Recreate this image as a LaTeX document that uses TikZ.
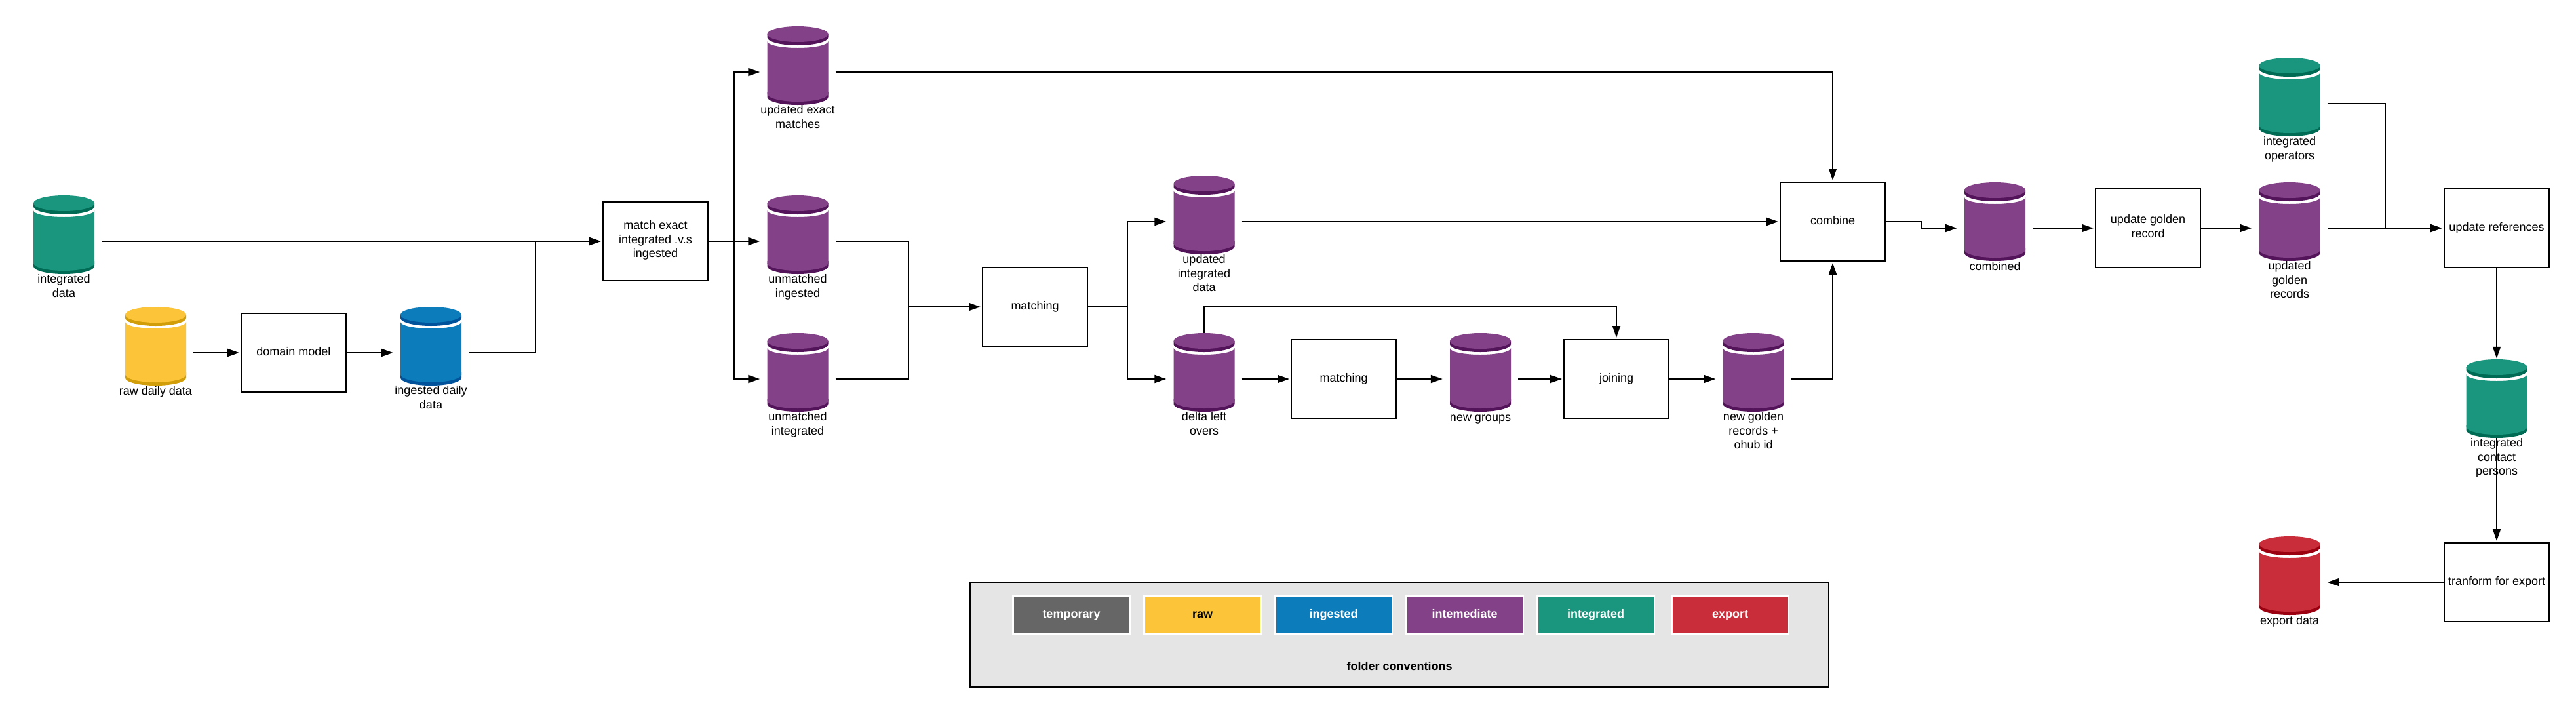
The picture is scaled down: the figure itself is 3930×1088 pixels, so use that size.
\documentclass[tikz,border=0pt]{standalone}
\usepackage{fontspec}
\setmainfont{Liberation Sans}
\usetikzlibrary{arrows.meta,calc}
\definecolor{cTemp}{HTML}{666666}
\definecolor{cRaw}{HTML}{FCC438}
\definecolor{cRawD}{HTML}{D19D09}
\definecolor{cIng}{HTML}{0C7CBA}
\definecolor{cIngD}{HTML}{00529B}
\definecolor{cMid}{HTML}{834187}
\definecolor{cMidD}{HTML}{53145A}
\definecolor{cInt}{HTML}{19967D}
\definecolor{cIntD}{HTML}{006B54}
\definecolor{cExp}{HTML}{C92D39}
\definecolor{cExpD}{HTML}{9A0010}
\definecolor{cLegend}{HTML}{E5E5E5}
\def\cylarc#1#2{.. controls (-46.5,{#1+.5523*#2}) and (-25.7,{#1+#2}) .. (0,{#1+#2}) .. controls (25.7,{#1+#2}) and (46.5,{#1+.5523*#2}) .. (46.5,#1)}
\tikzset{
  basefont/.style={font=\fontsize{18}{21.6}\selectfont},
  proc/.style={basefont,draw=black,line width=2pt,fill=white,minimum width=160pt,minimum height=120pt,inner sep=0pt,align=center,
    execute at begin node={\rule{0pt}{14pt}},execute at end node={\rule[-6pt]{0pt}{6pt}}},
  cylbox/.style={minimum width=93pt,minimum height=120pt,inner sep=0pt},
  cyllab/.style={basefont,inner sep=0pt,align=center,anchor=north,execute at begin node={\rule{0pt}{14pt}}},
  wire/.style={line width=2pt,line join=miter},
  conn/.style={wire,-{Triangle[length=18pt,width=12pt]}},
  tobox/.style={conn,shorten >=2pt},
  swatch/.style={basefont,font=\fontsize{18}{21.6}\selectfont\bfseries,draw=white,line width=2.5pt,minimum width=178.5pt,minimum height=58pt,inner sep=0pt,text=white,
    execute at begin node={\rule{0pt}{14pt}},execute at end node={\rule[-6pt]{0pt}{6pt}}},
  pics/dbshape/.style 2 args={code={
    \fill[#2] (-46.5,40) -- (-46.5,48) \cylarc{48}{12} -- (46.5,40) -- cycle;
    \fill[#1] (-46.5,-37) \cylarc{-37}{10} -- (46.5,44) -- (-46.5,44) -- cycle;
    \fill[#1] (-46.5,43) \cylarc{43}{12} -- cycle;
    \fill[#2] (-46.5,-48) -- (-46.5,-43) \cylarc{-43}{12} -- (46.5,-48) -- cycle;
    \fill[#1] (0,-48) ellipse [x radius=46.5pt,y radius=12pt];
  }}
}
\newcommand{\dbcyl}[6]{%
  \node[cylbox] (#1) at (#2,#3) {};
  \pic at (#1) {dbshape={#4}{#5}};
  \node[cyllab] (#1-l) at (#1.south) {#6};
  \coordinate (#1-o) at ([xshift=11pt,yshift=-10pt]#1.east);
  \coordinate (#1-i) at ([xshift=-11pt,yshift=-10pt]#1.west);
}
\begin{document}
\begin{tikzpicture}[x=1pt,y=-1pt]
\useasboundingbox (0,0) rectangle (3930,1088);
\fill[white] (0,0) rectangle (3930,1088);
% stores
\dbcyl{intdata}{97.5}{358}{cInt}{cIntD}{integrated\\data}
\dbcyl{raw}{237.5}{528}{cRaw}{cRawD}{raw daily data}
\dbcyl{ing}{657.5}{528}{cIng}{cIngD}{ingested daily\\data}
\dbcyl{exact}{1217}{100}{cMid}{cMidD}{updated exact\\matches}
\dbcyl{uing}{1217}{358}{cMid}{cMidD}{unmatched\\ingested}
\dbcyl{uint}{1217}{568}{cMid}{cMidD}{unmatched\\integrated}
\dbcyl{updint}{1837}{328}{cMid}{cMidD}{updated\\integrated\\data}
\dbcyl{delta}{1837}{568}{cMid}{cMidD}{delta left\\overs}
\dbcyl{groups}{2258.5}{568}{cMid}{cMidD}{new groups}
\dbcyl{newgold}{2675}{568}{cMid}{cMidD}{new golden\\records +\\ohub id}
\dbcyl{combined}{3043.5}{338}{cMid}{cMidD}{combined}
\dbcyl{updgold}{3493}{338}{cMid}{cMidD}{updated\\golden\\records}
\dbcyl{oper}{3493}{148}{cInt}{cIntD}{integrated\\operators}
\dbcyl{icp}{3809}{608}{cInt}{cIntD}{integrated\\contact\\persons}
\dbcyl{expd}{3493}{878}{cExp}{cExpD}{export data}
% processes
\node[proc] (domain) at (448,538) {domain model};
\node[proc] (match) at (1000,367.5) {match exact\\integrated .v.s\\ingested};
\node[proc] (matchA) at (1579,468) {matching};
\node[proc] (matchB) at (2050,578) {matching};
\node[proc] (join) at (2466,578) {joining};
\node[proc] (comb) at (2796,338) {combine};
\node[proc] (updg) at (3277,348) {update golden\\record};
\node[proc] (updr) at (3809,348) {update references};
\node[proc] (trans) at (3809,888) {tranform for export};
% legend
\node[draw=black,line width=2.5pt,fill=cLegend,minimum width=1310pt,minimum height=160pt] (legend) at (2135,968) {};
\node[swatch,fill=cTemp] (sTemp) at (1634.5,938) {temporary};
\node[swatch,fill=cRaw,text=black] (sRaw) at (1834.5,938) {raw};
\node[swatch,fill=cIng] (sIng) at (2034.5,938) {ingested};
\node[swatch,fill=cMid] (sMid) at (2234.5,938) {intemediate};
\node[swatch,fill=cInt] (sInt) at (2434.5,938) {integrated};
\node[swatch,fill=cExp] (sExp) at (2639.5,938) {export};
\node[basefont,font=\fontsize{18}{21.6}\selectfont\bfseries,inner sep=0pt,execute at begin node={\rule{0pt}{14pt}},execute at end node={\rule[-6pt]{0pt}{6pt}}] (legendT) at (2135,1018) {folder conventions};
% connectors
\draw[tobox] (intdata-o) -- (intdata-o -| match.west);
\coordinate (j1) at (816.5,0);
\draw[wire] (ing-o) -| (j1 |- intdata-o);
\draw[tobox] (raw-o) -- (raw-o -| domain.west);
\draw[conn] (domain.east |- ing-i) -- (ing-i);
\coordinate (j2) at (1120,0);
\draw[wire] (match.east |- uing-i) -- (uing-i -| j2);
\draw[conn] (uing-i -| j2) -- (uing-i);
\draw[conn] (uing-i -| j2) |- (exact-i);
\draw[conn] (uing-i -| j2) |- (uint-i);
\coordinate (j3) at (1386,0);
\draw[wire] (uing-o) -| (j3 |- matchA.west);
\draw[wire] (uint-o) -| (j3 |- matchA.west);
\draw[tobox] (j3 |- matchA.west) -- (matchA.west);
\coordinate (j4) at (1720,0);
\draw[wire] (matchA.east) -- (j4 |- matchA.east);
\draw[conn] (j4 |- matchA.east) |- (updint-i);
\draw[conn] (j4 |- matchA.east) |- (delta-i);
\draw[tobox] (updint-o) -- (updint-o -| comb.west);
\draw[tobox] (delta-o) -- (delta-o -| matchB.west);
\draw[conn] (matchB.east) -- (groups-i);
\draw[tobox] (groups-o) -- (groups-o -| join.west);
\draw[conn] (join.east) -- (newgold-i);
\coordinate (fb) at (delta.north |- matchA.east);
\draw[tobox] (delta.north) -- (fb) -| (join.north);
\draw[tobox] (exact-o) -| (comb.north);
\draw[tobox] (newgold-o) -| (comb.south);
\coordinate (j5) at (2932,0);
\draw[conn] (comb.east) -| (j5 |- combined-i) -- (combined-i);
\draw[tobox] (combined-o) -- (combined-o -| updg.west);
\draw[conn] (updg.east |- updgold-i) -- (updgold-i);
\draw[tobox] (updgold-o) -- (updgold-o -| updr.west);
\coordinate (j6) at (3639,0);
\draw[wire] (oper-o) -| (j6 |- updgold-o);
\draw[conn,shorten >=1pt] (updr.south) -- (icp.north);
\draw[tobox] (icp.south) -- (trans.north);
\draw[conn] (trans.west |- expd-o) -- (expd-o);
\end{tikzpicture}
\end{document}
